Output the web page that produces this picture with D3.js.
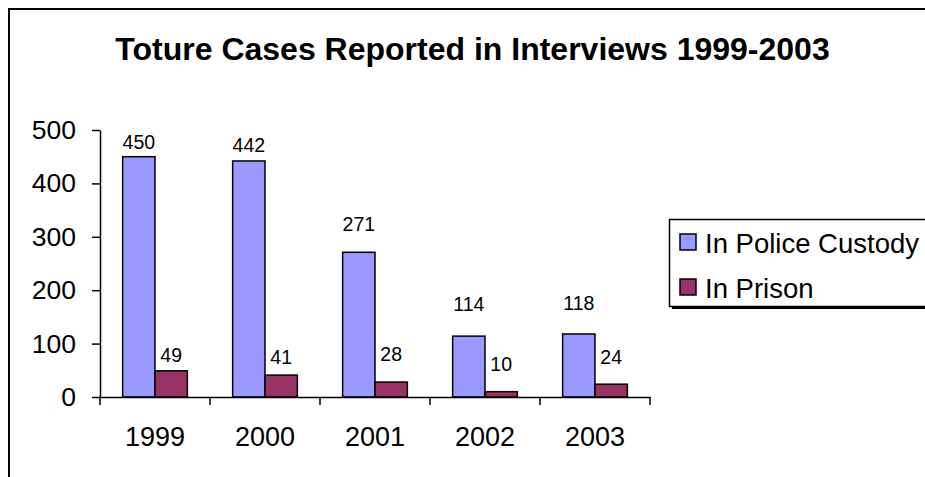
<!DOCTYPE html>
<html>
<head>
<meta charset="utf-8">
<script src="https://cdn.jsdelivr.net/npm/d3@7"></script>
<style>
  html, body { margin: 0; padding: 0; background: #fff; }
  svg { display: block; font-family: "Liberation Sans", Arial, sans-serif; }
</style>
</head>
<body>
<svg id="chart" width="925" height="477"></svg>
<script>
// ---- data ----
const years = ["1999", "2000", "2001", "2002", "2003"];
const seriesNames = ["In Police Custody", "In Prison"];
const policeCustody = [450, 442, 271, 114, 118];
const prison = [49, 41, 28, 10, 24];
const yTicks = [0, 100, 200, 300, 400, 500];
const titleText = "Toture Cases Reported in Interviews 1999-2003";

// ---- layout (label lift above bar tops, as placed in the original) ----
const labelLiftPolice = [8, 9, 21, 25, 24];
const labelLiftPrison = [9, 11, 21, 21, 20];
const colors = ["#9999FF", "#993366"];

const svg = d3.select("#chart");

// outer frame (extends past right/bottom edges)
svg.append("rect")
  .attr("x", 9).attr("y", 9)
  .attr("width", 1000).attr("height", 600)
  .attr("fill", "#fff").attr("stroke", "#000").attr("stroke-width", 2);

// title
svg.append("text")
  .attr("x", 472.5).attr("y", 60)
  .attr("text-anchor", "middle")
  .attr("font-size", 32).attr("font-weight", "bold")
  .text(titleText);

const x0 = d3.scaleBand().domain(years).range([100, 650]).padding(0);
const x1 = d3.scaleBand().domain(seriesNames).range([0, x0.bandwidth()]).paddingInner(0).paddingOuter(0.7);
const y = d3.scaleLinear().domain([0, 500]).range([397, 130]);

const rows = years.map((yr, i) => ({
  year: yr,
  values: [
    { s: seriesNames[0], v: policeCustody[i], lift: labelLiftPolice[i], c: colors[0] },
    { s: seriesNames[1], v: prison[i], lift: labelLiftPrison[i], c: colors[1] }
  ]
}));

// bars
const groups = svg.append("g").selectAll("g").data(rows).join("g")
  .attr("transform", d => `translate(${x0(d.year)},0)`);

groups.selectAll("rect").data(d => d.values).join("rect")
  .attr("x", d => x1(d.s))
  .attr("y", d => y(d.v))
  .attr("width", x1.bandwidth())
  .attr("height", d => y(0) - y(d.v))
  .attr("fill", d => d.c)
  .attr("stroke", "#000").attr("stroke-width", 1.5);

groups.selectAll("text").data(d => d.values).join("text")
  .attr("x", d => x1(d.s) + x1.bandwidth() / 2)
  .attr("y", d => y(d.v) - d.lift)
  .attr("text-anchor", "middle")
  .attr("font-size", 19.5)
  .text(d => d.v);

// y axis
const yAxis = d3.axisLeft(y).tickValues(yTicks).tickSize(8).tickPadding(16).tickSizeOuter(0);
const gy = svg.append("g").attr("transform", "translate(100,0)").call(yAxis);
gy.select(".domain").attr("stroke", "#000").attr("stroke-width", 1.5);
gy.selectAll(".tick line").attr("stroke", "#000").attr("stroke-width", 1.5);
gy.selectAll(".tick text").attr("font-size", 26.5).attr("fill", "#000")
  .attr("font-family", "'Liberation Sans', Arial, sans-serif");

// x axis
const gx = svg.append("g").attr("transform", `translate(0,${y(0)})`)
  .call(d3.axisBottom(x0).tickSize(0).tickPadding(30).tickSizeOuter(0));
gx.select(".domain").attr("stroke", "#000").attr("stroke-width", 1.5);
gx.selectAll(".tick text").attr("font-size", 27).attr("fill", "#000")
  .attr("font-family", "'Liberation Sans', Arial, sans-serif");
// category separator ticks
const bounds = years.map(d => x0(d)).concat([x0.range()[1]]);
gx.selectAll("line.sep").data(bounds).join("line")
  .attr("class", "sep")
  .attr("x1", d => d).attr("x2", d => d)
  .attr("y1", 0).attr("y2", 8)
  .attr("stroke", "#000").attr("stroke-width", 1.5);

// legend
const lg = svg.append("g");
lg.append("rect").attr("x", 672).attr("y", 222).attr("width", 300).attr("height", 87).attr("fill", "#000");
lg.append("rect").attr("x", 669.5).attr("y", 219.5).attr("width", 300).attr("height", 87)
  .attr("fill", "#fff").attr("stroke", "#000").attr("stroke-width", 1.5);
const items = lg.selectAll("g.item").data(seriesNames).join("g").attr("class", "item")
  .attr("transform", (d, i) => `translate(0,${i * 45})`);
items.append("rect").attr("x", 680).attr("y", 234).attr("width", 16).attr("height", 16)
  .attr("fill", (d, i) => colors[i]).attr("stroke", "#000").attr("stroke-width", 1.5);
items.append("text").attr("x", 705).attr("y", 252.5).attr("font-size", 27.5).text(d => d);
</script>
</body>
</html>
